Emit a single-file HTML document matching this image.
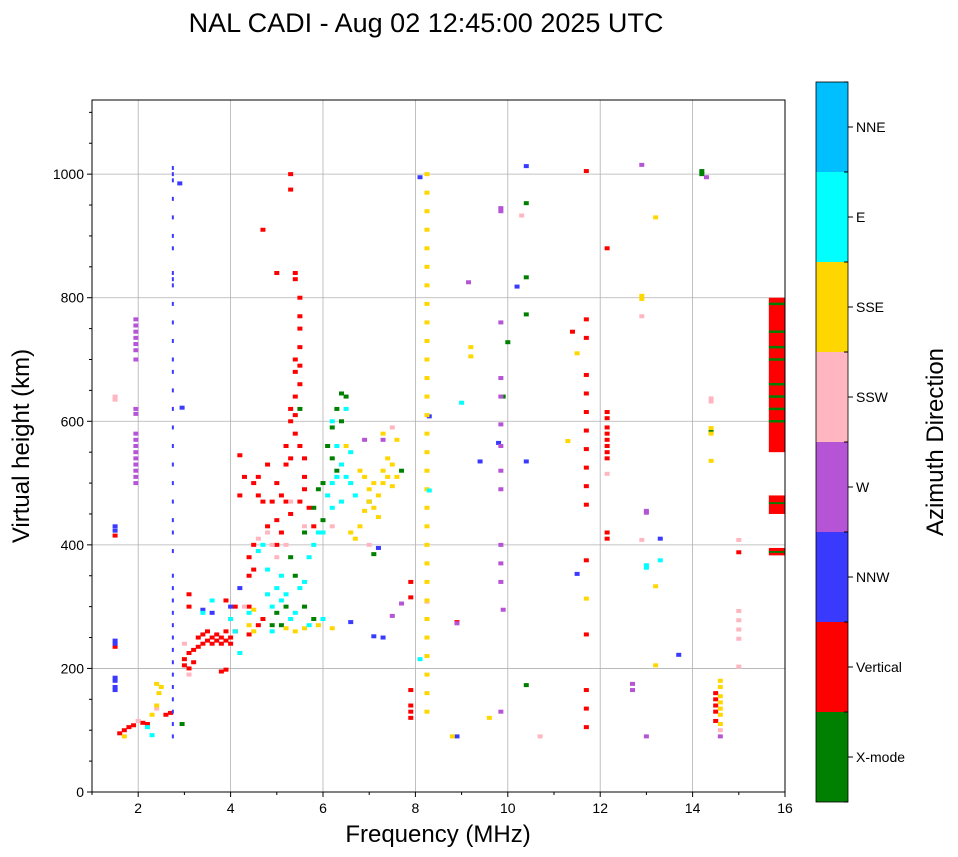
<!DOCTYPE html>
<html><head><meta charset="utf-8">
<style>
body{margin:0;background:#fff;}
svg{display:block;font-family:"Liberation Sans","DejaVu Sans",sans-serif;}
</style></head>
<body>
<svg id="chart" width="958" height="857" viewBox="0 0 958 857">
<text x="426" y="32" text-anchor="middle" font-size="27">NAL CADI - Aug 02 12:45:00 2025 UTC</text>
<g id="grid"></g>
<g id="marks"></g>
<g id="axes"></g>
<text x="438" y="842" text-anchor="middle" font-size="24">Frequency (MHz)</text>
<text transform="translate(29,446) rotate(-90)" text-anchor="middle" font-size="24">Virtual height (km)</text>
<g id="cbar"></g>
<text transform="translate(943,442) rotate(-90)" text-anchor="middle" font-size="24">Azimuth Direction</text>
</svg>
<script>
const xTicks=[2,4,6,8,10,12,14,16];
const yTicks=[0,200,400,600,800,1000];
const dirNames=["X-mode","Vertical","NNW","W","SSW","SSE","E","NNE"];
const dirColors=["#008000","#ff0000","#3a3aff","#b555d6","#ffb6c1","#ffd700","#00ffff","#00bfff"];

const xmodeF=[2.95,5.1,5.2,5.3,5.4,5.6,5.8,5.9,6.0,6.0,6.1,6.2,6.2,6.3,6.4,6.4,6.5,6.3,5.5,5.6,5.8,5.0,4.9,7.0,7.7,9.9,10.0,10.4,10.4,10.4,10.4,14.2,14.2,14.4,7.1];
const xmodeH=[110,270,300,380,350,420,460,490,500,440,560,540,590,620,645,600,640,520,620,300,280,290,270,470,520,640,728,833,773,953,173,1005,1000,583,385];

const vertF=[1.6,1.7,1.8,1.9,2.1,2.2,2.6,2.7,1.5,1.5,
3.0,3.0,3.1,3.1,3.1,3.1,3.2,3.2,3.3,3.3,3.4,3.4,3.5,3.5,3.6,3.6,3.7,3.7,3.8,3.8,3.9,3.9,4.0,4.0,3.9,4.1,3.8,3.9,4.2,4.3,4.2,
4.4,4.4,4.4,4.5,4.5,4.5,4.6,4.6,4.7,4.8,4.8,4.9,5.0,5.0,4.6,4.7,4.4,4.1,4.7,5.0,5.3,5.3,
5.1,5.2,5.2,5.3,5.3,5.3,5.4,5.4,5.4,5.5,5.5,5.5,5.5,5.4,5.4,5.5,5.5,5.4,5.4,5.5,5.6,5.6,5.2,5.3,5.1,5.0,5.5,5.6,5.7,5.8,
7.9,7.9,7.9,7.9,7.9,7.9,
11.7,11.7,11.7,11.7,11.7,11.7,11.7,11.7,11.7,11.7,11.7,11.7,11.7,11.7,11.7,11.7,
12.15,12.15,12.15,12.15,12.15,12.15,12.15,12.15,12.15,12.15,12.15,
11.4,14.5,14.5,14.5,14.5,14.5,15.0,8.9];
const vertH=[95,100,105,108,112,110,125,128,415,235,
205,215,200,225,300,320,210,230,235,250,240,255,245,260,250,240,245,255,240,250,245,260,250,240,310,300,195,198,480,510,545,
300,350,380,360,400,500,480,510,470,430,530,470,500,440,270,280,255,260,910,840,1000,975,
480,530,560,540,600,620,640,680,700,720,750,770,800,830,840,690,660,610,580,560,540,510,470,450,420,400,470,490,460,430,
340,315,165,140,130,120,
1005,765,735,675,645,615,585,555,525,495,465,375,255,165,135,105,
880,615,605,590,580,570,560,550,540,420,410,
745,160,150,140,130,115,388,275];

const nnwF=[1.5,1.5,1.5,1.5,1.5,1.5,1.5,1.5,
2.75,2.75,2.75,2.75,2.75,2.75,2.75,2.75,2.75,2.75,2.75,2.75,2.75,2.75,2.75,2.75,2.75,2.75,2.75,2.75,2.75,2.75,2.75,2.75,2.75,2.75,2.75,2.75,2.75,2.75,2.75,2.75,2.75,2.75,2.75,2.75,2.75,2.75,2.75,
2.9,2.95,6.6,7.3,7.1,7.2,8.1,8.3,8.9,9.4,9.8,10.2,10.4,10.4,11.5,13.3,13.7,3.4,3.6,4.0,4.2];
const nnwH=[430,423,245,240,185,180,170,165,
90,110,130,150,170,190,210,230,250,270,290,310,330,350,390,420,440,470,500,530,560,590,620,650,680,700,730,760,790,820,830,840,880,900,930,960,990,1000,1010,
985,622,275,250,252,395,995,608,90,535,565,818,1013,535,353,410,222,295,290,300,330];

const wF=[1.95,1.95,1.95,1.95,1.95,1.95,1.95,1.95,1.95,1.95,1.95,1.95,1.95,1.95,1.95,1.95,1.95,1.95,
7.5,7.7,8.9,9.9,9.85,9.85,9.85,9.85,9.85,9.85,9.85,9.85,9.85,9.85,9.85,9.85,9.85,9.15,12.7,12.7,13.0,13.0,13.0,14.6,12.9,14.3,6.9,7.3];
const wH=[500,510,520,530,540,550,560,570,580,612,620,700,715,725,735,745,755,765,
285,305,273,295,370,400,340,490,520,560,595,640,670,760,940,945,130,825,175,165,90,455,452,90,1015,995,570,570];

const sswF=[1.5,1.5,2.0,2.4,3.0,3.1,4.8,4.9,5.0,5.2,5.3,5.6,6.2,7.0,7.5,8.25,12.15,12.9,12.9,14.4,14.4,15.0,15.0,15.0,15.0,15.0,15.0,10.7,10.3,14.6,4.3,4.6];
const sswH=[640,635,115,135,240,190,420,400,380,400,470,430,430,400,590,308,515,770,408,637,632,408,293,278,263,248,203,90,933,100,300,410];

const sseF=[1.7,2.3,2.4,2.45,2.5,2.4,
4.4,4.5,4.5,5.2,5.4,5.6,5.9,6.2,6.6,6.7,6.8,6.9,7.0,7.0,7.1,7.1,7.2,7.3,7.3,7.4,7.4,7.5,7.5,7.6,7.6,7.3,6.5,6.8,7.2,6.9,
8.25,8.25,8.25,8.25,8.25,8.25,8.25,8.25,8.25,8.25,8.25,8.25,8.25,8.25,8.25,8.25,8.25,8.25,8.25,8.25,8.25,8.25,8.25,8.25,8.25,8.25,8.25,8.25,8.25,8.25,
8.8,9.2,9.2,9.6,11.3,11.5,11.7,12.9,12.9,13.2,13.2,13.2,14.4,14.4,14.4,14.6,14.6,14.6,14.6,14.6,14.6,14.6];
const sseH=[90,125,140,160,170,175,
270,260,295,265,260,265,270,265,420,410,430,455,470,490,500,460,480,500,520,540,510,530,495,510,570,580,560,520,445,510,
130,160,190,220,250,280,310,340,370,400,430,460,490,520,550,580,610,640,670,700,730,760,790,820,850,880,910,940,970,1000,
90,720,705,120,568,710,313,803,798,930,333,205,589,580,536,180,170,155,145,135,125,110];

const eF=[2.3,2.2,3.4,3.6,4.0,4.1,4.2,4.4,4.6,4.7,4.8,4.8,4.9,5.0,5.1,5.1,5.2,5.3,5.5,5.6,5.7,5.8,5.9,6.0,6.1,6.2,6.3,6.3,6.4,6.5,6.6,6.5,6.6,6.7,6.2,6.2,5.7,6.0,6.4,8.1,8.3,9.0,13.0,13.0,13.3,4.9,5.4];
const eH=[92,105,290,310,280,260,225,290,390,400,360,320,300,330,350,310,320,280,330,340,380,400,420,420,480,500,510,560,530,510,500,620,550,480,460,600,270,280,470,215,488,630,367,363,375,260,290];

const nneF=[];
const nneH=[];

const bandFLo=[15.65,15.65,15.65,15.65,15.65,15.65,15.65,15.65,15.65,15.65,15.65,15.65,15.65];
const bandFHi=[16,16,16,16,16,16,16,16,16,16,16,16,16];
const bandHLo=[550,788,743,718,698,658,638,618,598,450,466,383,387];
const bandHHi=[800,792,747,722,702,662,642,622,602,480,469,395,390];
const bandDir=[1,0,0,0,0,0,0,0,0,1,0,1,0];

const series=[[xmodeF,xmodeH],[vertF,vertH],[nnwF,nnwH],[wF,wH],[sswF,sswH],[sseF,sseH],[eF,eH],[nneF,nneH]];

const X0=92,X1=785,Y0=100,Y1=792;
const fMin=1,fMax=16,hMin=0,hMax=1120;
const xs=f=>X0+(f-fMin)/(fMax-fMin)*(X1-X0);
const ys=h=>Y1-(h-hMin)/(hMax-hMin)*(Y1-Y0);
const NS="http://www.w3.org/2000/svg";
function mk(tag,attrs,parent){const e=document.createElementNS(NS,tag);for(const k in attrs)e.setAttribute(k,attrs[k]);parent.appendChild(e);return e;}

const grid=document.getElementById('grid'),marks=document.getElementById('marks'),axes=document.getElementById('axes'),cbar=document.getElementById('cbar');
xTicks.forEach(t=>{const l=mk('line',{x1:xs(t),x2:xs(t),y1:Y0,y2:Y1,stroke:'#b0b0b0','stroke-width':0.8},grid);

});
yTicks.forEach(t=>{const l=mk('line',{x1:X0,x2:X1,y1:ys(t),y2:ys(t),stroke:'#b0b0b0','stroke-width':0.8},grid);

});

series.forEach((s,d)=>{
  s[0].forEach((f,i)=>{
    const w=(f===2.75)?2:5;
    const r=mk('rect',{x:xs(f)-w/2,y:ys(s[1][i])-2,width:w,height:4,fill:dirColors[d]},marks);
    
    
  });
});
bandFLo.forEach((f,i)=>{
  const r=mk('rect',{x:xs(f),y:ys(bandHHi[i]),width:xs(bandFHi[i])-xs(f),height:ys(bandHLo[i])-ys(bandHHi[i]),fill:dirColors[bandDir[i]]},marks);
  
  
});

mk('rect',{x:X0,y:Y0,width:X1-X0,height:Y1-Y0,fill:'none',stroke:'#000','stroke-width':1},axes);
xTicks.forEach(t=>{mk('line',{x1:xs(t),x2:xs(t),y1:Y1,y2:Y1+5,stroke:'#000'},axes);
  const tx=mk('text',{x:xs(t),y:Y1+21,'text-anchor':'middle','font-size':14},axes);tx.textContent=t;
  
  });
[1,3,5,7,9,11,13,15].forEach(t=>mk('line',{x1:xs(t),x2:xs(t),y1:Y1,y2:Y1+3,stroke:'#000'},axes));
yTicks.forEach(t=>{mk('line',{x1:X0-5,x2:X0,y1:ys(t),y2:ys(t),stroke:'#000'},axes);
  const tx=mk('text',{x:X0-8,y:ys(t)+5,'text-anchor':'end','font-size':14},axes);tx.textContent=t;
  
  });
for(let h=50;h<=1100;h+=50){if(h%200)mk('line',{x1:X0-3,x2:X0,y1:ys(h),y2:ys(h),stroke:'#000'},axes);}

const CX=816,CW=32,CT=82,CB=802,seg=(CB-CT)/8;
dirNames.forEach((n,i)=>{
  const y=CB-(i+1)*seg;
  const r=mk('rect',{x:CX,y:y,width:CW,height:seg,fill:dirColors[i]},cbar);
  
  
  mk('line',{x1:CX+CW,x2:CX+CW+5,y1:y+seg/2,y2:y+seg/2,stroke:'#000'},cbar);
  const t=mk('text',{x:CX+CW+8,y:y+seg/2+5,'font-size':14},cbar);t.textContent=n;
  
  
});
for(let i=0;i<=8;i++)mk('line',{x1:CX+CW-4,x2:CX+CW,y1:CT+i*seg,y2:CT+i*seg,stroke:'#000'},cbar);
mk('rect',{x:CX,y:CT,width:CW,height:CB-CT,fill:'none',stroke:'#000','stroke-width':0.8},cbar);
</script>
</body></html>
